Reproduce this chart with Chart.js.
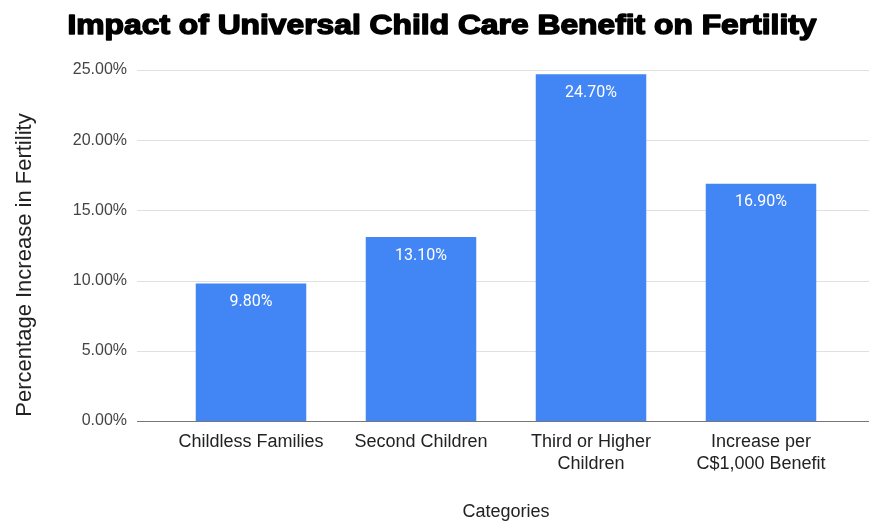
<!DOCTYPE html>
<html>
<head>
<meta charset="utf-8">
<script src="https://cdn.jsdelivr.net/npm/chart.js@4"></script>
<style>
  html, body { margin: 0; padding: 0; background: #fff; }
  #wrap { width: 869px; height: 522px; position: relative; }
</style>
</head>
<body>
<div id="wrap"><canvas id="chart"></canvas></div>
<script>
// Fertility response by family category
const categories = ['Childless Families', 'Second Children', ['Third or Higher', 'Children'], ['Increase per', 'C$1,000 Benefit']];
const increasePct = [9.8, 13.1, 24.7, 16.9];
const yTicks = [0, 5, 10, 15, 20, 25];
const chartTitle = 'Impact of Universal Child Care Benefit on Fertility';
const yAxisTitle = 'Percentage Increase in Fertility';

const BAR_BLUE = '#4285F4';
const GRID = '#e0e0e0';
const AXIS_TEXT = '#444444';
const LABEL_TEXT = '#222222';
const SANS = "'Liberation Sans', Arial, sans-serif";

// Heavy headline, drawn by hand so it can be thickened and stretched
const headline = {
  id: 'headline',
  afterDraw(chart) {
    const { ctx } = chart;
    ctx.save();
    ctx.font = "bold 28px " + SANS;
    ctx.textAlign = 'center';
    ctx.textBaseline = 'alphabetic';
    ctx.fillStyle = '#000';
    ctx.strokeStyle = '#000';
    ctx.lineWidth = 1.5;
    ctx.lineJoin = 'round';
    const w = ctx.measureText(chartTitle).width;
    ctx.translate(442, 34);
    ctx.scale(749 / w, 1);
    ctx.fillText(chartTitle, 0, 0);
    ctx.strokeText(chartTitle, 0, 0);
    ctx.restore();
  }
};

// Vertical axis caption, centred on the whole canvas height
const yCaption = {
  id: 'yCaption',
  afterDraw(chart) {
    const { ctx } = chart;
    ctx.save();
    ctx.font = "22px " + SANS;
    ctx.fillStyle = LABEL_TEXT;
    ctx.textAlign = 'center';
    ctx.textBaseline = 'middle';
    ctx.translate(25, 265);
    ctx.rotate(-Math.PI / 2);
    ctx.fillText(yAxisTitle, 0, 0);
    ctx.restore();
  }
};

// Horizontal guide lines run wider than the category bands
const wideGrid = {
  id: 'wideGrid',
  beforeDatasetsDraw(chart) {
    const { ctx, scales: { y } } = chart;
    ctx.save();
    ctx.lineWidth = 1;
    yTicks.forEach(v => {
      const py = Math.round(y.getPixelForValue(v)) + 0.5;
      ctx.strokeStyle = v === 0 ? '#777777' : GRID;
      ctx.beginPath();
      ctx.moveTo(137, py);
      ctx.lineTo(chart.width, py);
      ctx.stroke();
    });
    ctx.restore();
  }
};

// Value labels inside the top of each bar
const barValues = {
  id: 'barValues',
  afterDatasetsDraw(chart) {
    const { ctx } = chart;
    const meta = chart.getDatasetMeta(0);
    ctx.save();
    ctx.font = "16px Roboto, sans-serif";
    ctx.fillStyle = '#ffffff';
    ctx.textAlign = 'center';
    ctx.textBaseline = 'middle';
    meta.data.forEach((bar, i) => {
      ctx.fillText(increasePct[i].toFixed(2) + '%', bar.x, bar.y + 18.5);
    });
    ctx.restore();
  }
};

new Chart(document.getElementById('chart'), {
  type: 'bar',
  data: {
    labels: categories,
    datasets: [{
      data: increasePct,
      backgroundColor: BAR_BLUE,
      borderWidth: 0,
      barPercentage: 0.65,
      categoryPercentage: 1,
    }],
  },
  options: {
    responsive: true,
    maintainAspectRatio: false,
    animation: false,
    layout: { padding: { top: 70, right: 23, bottom: 0, left: 0 } },
    plugins: {
      legend: { display: false },
      tooltip: { enabled: false },
      title: { display: false },
    },
    scales: {
      x: {
        grid: { display: false, drawTicks: false },
        border: { display: false },
        ticks: { color: LABEL_TEXT, padding: 10, font: { family: SANS, size: 18, lineHeight: 1.22 } },
        title: { display: true, text: 'Categories', color: LABEL_TEXT, padding: { top: 0, bottom: -1 },
                 font: { family: SANS, size: 18 } },
        afterFit(scale) { scale.height = 101; },
      },
      y: {
        min: 0,
        max: 25,
        grid: { display: false, drawTicks: false },
        border: { display: false },
        afterBuildTicks(scale) { scale.ticks = yTicks.map(v => ({ value: v })); },
        ticks: {
          color: AXIS_TEXT,
          padding: 39,
          font: { family: SANS, size: 16 },
          callback: v => v.toFixed(2) + '%',
        },
        afterFit(scale) { scale.width = 166; },
      },
    },
  },
  plugins: [wideGrid, barValues, headline, yCaption],
});
</script>
</body>
</html>
